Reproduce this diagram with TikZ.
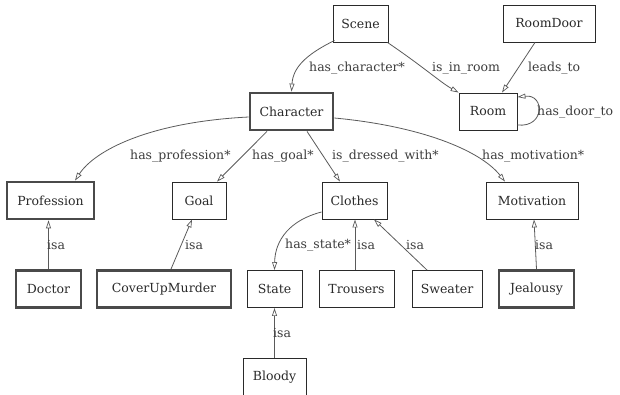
\documentclass[tikz,border=0pt]{standalone}
\usepackage{fontspec}
\setmainfont{DejaVu Serif}
\usetikzlibrary{arrows.meta,calc}
\definecolor{edgegray}{HTML}{5A5A5A}
\definecolor{boxgray}{HTML}{4A4A4A}
\definecolor{txtgray}{HTML}{2A2A2A}
\definecolor{lblgray}{HTML}{3C3C3C}
\tikzset{
  cls/.style={draw=txtgray, line width=0.9pt, fill=white, minimum height=37pt,
    inner sep=0pt, text=txtgray, font=\fontsize{12.5}{14}\selectfont},
  strong/.style={cls, draw=boxgray, line width=2.8pt},
  edge/.style={draw=edgegray, line width=0.8pt,
    -{Triangle[open, length=8pt, width=5pt, line width=0.7pt]}},
  lbl/.style={anchor=west, inner sep=0pt, text=lblgray,
    font=\fontsize{12.5}{14}\selectfont}
}
\begin{document}
\begin{tikzpicture}[x=1pt, y=-1pt]
\useasboundingbox (0,0) rectangle (620,395);

% classes
\node[cls, minimum width=55pt]    (scene)      at (360.5, 23.5) {Scene};
\node[cls, minimum width=92pt]    (roomdoor)   at (549, 23.5)   {RoomDoor};
\node[strong, minimum width=83pt] (character)  at (291.5, 111.5) {Character};
\node[cls, minimum width=58pt]    (room)       at (488, 111.5)  {Room};
\node[strong, minimum width=87pt] (profession) at (50.5, 200.5) {Profession};
\node[cls, minimum width=54pt]    (goal)       at (199, 200.5)  {Goal};
\node[cls, minimum width=65pt]    (clothes)    at (354.5, 200.5) {Clothes};
\node[cls, minimum width=92pt]    (motivation) at (532, 200.5)  {Motivation};
\node[strong, minimum width=65pt] (doctor)     at (48.5, 289)   {Doctor};
\node[strong, minimum width=134pt] (cover)     at (164, 289)    {CoverUpMurder};
\node[cls, minimum width=55pt]    (state)      at (274.5, 289)  {State};
\node[cls, minimum width=75pt]    (trousers)   at (356.5, 289)  {Trousers};
\node[cls, minimum width=70pt]    (sweater)    at (447, 289)    {Sweater};
\node[strong, minimum width=75pt] (jealousy)   at (536.5, 289)  {Jealousy};
\node[cls, minimum width=63pt]    (bloody)     at (274.5, 377)  {Bloody};

% relations
\draw[edge] ($(scene.south west)+(2,-2)$) .. controls (305,55) and (293,68) .. (character.north);
\draw[edge] ($(scene.south east)+(-1,0)$) .. controls (425,68) and (440,82) .. ($(room.north west)+(0,0)$);
\draw[edge] ($(roomdoor.south)+(-14,0)$) -- ($(room.north)+(14,0)$);
\draw[edge] ($(room.east)+(0,13.5)$) .. controls (545,128) and (545,94) .. ($(room.east)+(0,-14.5)$);

\draw[edge] ($(character.west)+(0,5.5)$) .. controls (150,122) and (95,150) .. ($(profession.north)+(24.5,0)$);
\draw[edge] ($(character.south)+(-24.5,0)$) -- ($(goal.north)+(18,0)$);
\draw[edge] ($(character.south)+(15.5,0)$) -- ($(clothes.north)+(-14.5,0)$);
\draw[edge] ($(character.east)+(0,6.5)$) .. controls (420,126) and (480,150) .. ($(motivation.north)+(-27,0)$);

\draw[edge] ($(clothes.west)+(0,11.5)$) .. controls (290,220) and (275,240) .. (state.north);
\draw[edge] (doctor.north) -- (doctor.north |- profession.south);
\draw[edge] ($(cover.north)+(7,0)$) -- ($(goal.south)+(-7,0)$);
\draw[edge] ($(trousers.north)+(-1.5,0)$) -- ($(clothes.south)+(0.5,0)$);
\draw[edge] ($(sweater.north)+(-20,0)$) -- ($(clothes.south)+(19.5,0)$);
\draw[edge] (jealousy.north) -- ($(motivation.south)+(2,0)$);
\draw[edge] (bloody.north) -- (state.south);

% relation labels
\node[lbl] (l-char)   at (309, 68)  {has\_character*};
\node[lbl] (l-inroom) at (432, 68)  {is\_in\_room};
\node[lbl] (l-leads)  at (528, 68)  {leads\_to};
\node[lbl] (l-door)   at (537, 112) {has\_door\_to};
\node[lbl] (l-prof)   at (130, 156) {has\_profession*};
\node[lbl] (l-goal)   at (252, 156) {has\_goal*};
\node[lbl] (l-dress)  at (332, 156) {is\_dressed\_with*};
\node[lbl] (l-motiv)  at (482, 156) {has\_motivation*};
\node[lbl] (l-state)  at (285, 245) {has\_state*};
\node[lbl] (l-isa1)   at (47, 245)  {isa};
\node[lbl] (l-isa2)   at (185, 245) {isa};
\node[lbl] (l-isa3)   at (357, 245) {isa};
\node[lbl] (l-isa4)   at (406, 245) {isa};
\node[lbl] (l-isa5)   at (535, 245) {isa};
\node[lbl] (l-isa6)   at (273, 333) {isa};
\end{tikzpicture}
\end{document}
